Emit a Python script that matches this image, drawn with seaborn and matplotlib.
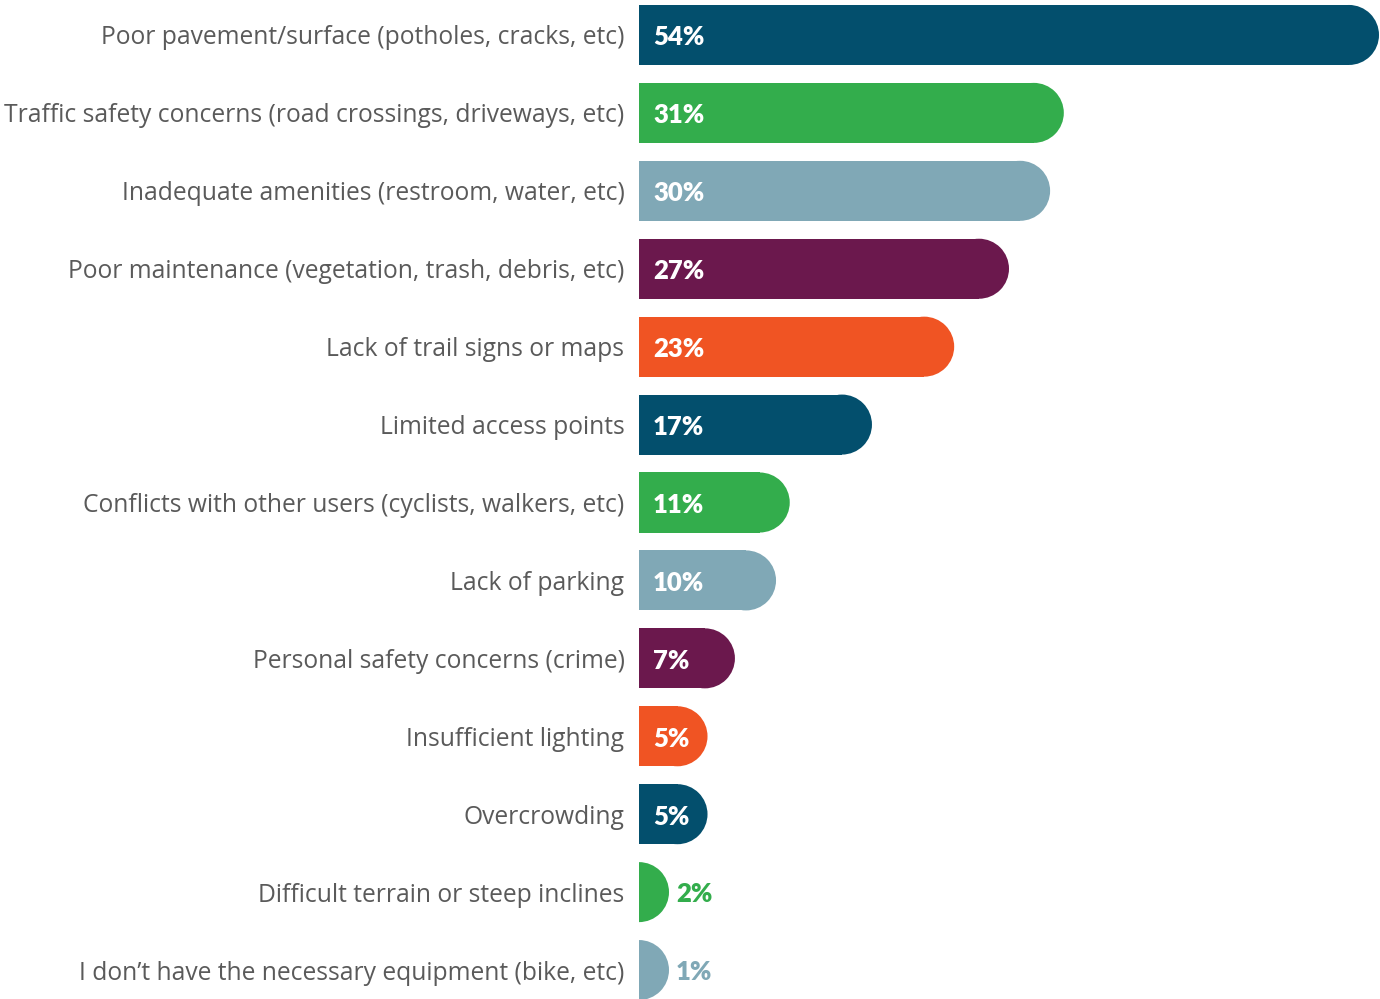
import matplotlib
matplotlib.use("Agg")
import matplotlib.pyplot as plt
import seaborn as sns
from matplotlib.patches import Ellipse

# Survey data: barriers to trail use
categories = [
    "Poor pavement/surface (potholes, cracks, etc)",
    "Traffic safety concerns (road crossings, driveways, etc)",
    "Inadequate amenities (restroom, water, etc)",
    "Poor maintenance (vegetation, trash, debris, etc)",
    "Lack of trail signs or maps",
    "Limited access points",
    "Conflicts with other users (cyclists, walkers, etc)",
    "Lack of parking",
    "Personal safety concerns (crime)",
    "Insufficient lighting",
    "Overcrowding",
    "Difficult terrain or steep inclines",
    "I don\u2019t have the necessary equipment (bike, etc)",
]
values = [54, 31, 30, 27, 23, 17, 11, 10, 7, 5, 5, 2, 1]

# Colour cycle
base_colors = ["#034F6D", "#33AD4C", "#80A8B6", "#6B184D", "#F05423"]
colors = [base_colors[i % len(base_colors)] for i in range(len(categories))]

sns.set_style("white")
plt.rcParams["font.family"] = ["Open Sans", "DejaVu Sans"]

W, H = 1380, 999
fig = plt.figure(figsize=(W / 100, H / 100), dpi=100)
ax_left, ax_right = 639, 1379
ax_top, ax_bottom = -4, 1009
ax = fig.add_axes([ax_left / W, 1 - ax_bottom / H,
                   (ax_right - ax_left) / W, (ax_bottom - ax_top) / H])

sns.barplot(x=values, y=categories, hue=categories, palette=colors,
            legend=False, orient="h", width=0.77, ax=ax, saturation=1)

xmax = 54
ax.set_xlim(0, xmax)
ax.set_ylim(len(categories) - 0.5, -0.5)
px_per_unit = (ax_right - ax_left) / xmax
rx = 30 / px_per_unit

# rounded right end on each bar
for patch in list(ax.patches):
    x0, y0 = patch.get_x(), patch.get_y()
    w, h = patch.get_width(), patch.get_height()
    body = max(w - rx, 0)
    patch.set_width(body)
    patch.set_linewidth(0)
    cap = Ellipse((x0 + body, y0 + h / 2), width=2 * rx, height=h,
                  facecolor=patch.get_facecolor(), edgecolor="none")
    ax.add_patch(cap)

# value labels
val_font = ["Lato", "DejaVu Sans"]
for i, v in enumerate(values):
    if v >= 3:
        ax.text(14 / px_per_unit, i + 0.03, f"{v}%", color="white", fontsize=18.5,
                fontweight="heavy", va="center", ha="left", family=val_font)
    else:
        end = max(v, rx)
        ax.text(end + 7 / px_per_unit, i + 0.03, f"{v}%", color=colors[i], fontsize=18.5,
                fontweight="heavy", va="center", ha="left", family=val_font)

ax.set_xticks([])
ax.set_yticks(range(len(categories)))
ax.set_yticklabels(categories, fontsize=17.7, color="#5A5A5A")
ax.tick_params(axis="y", length=0, pad=10.5)
ax.set_xlabel("")
ax.set_ylabel("")
sns.despine(ax=ax, left=True, bottom=True)

fig.savefig("out.png", dpi=100)
